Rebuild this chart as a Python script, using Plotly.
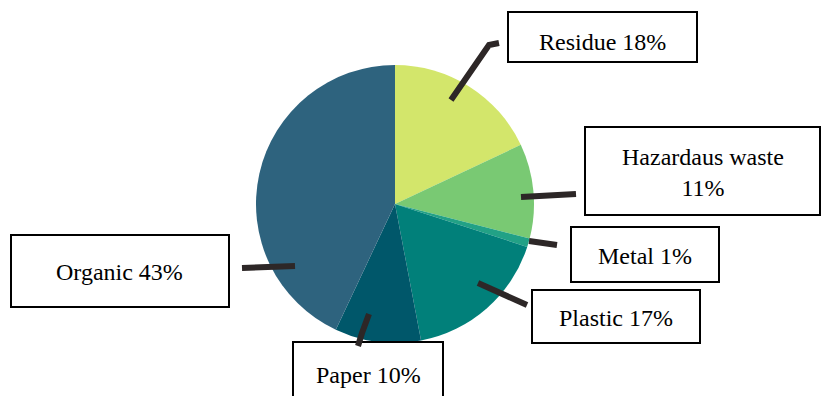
import plotly.graph_objects as go

# ---- data ----
labels = ["Residue", "Hazardaus waste", "Metal", "Plastic", "Paper", "Organic"]
values = [18, 11, 1, 17, 10, 43]
colors = ["#d3e66b", "#79c973", "#22a186", "#01807a", "#00576a", "#2e637e"]
# label text (line breaks where the box wraps)
label_texts = ["Residue 18%", "Hazardaus waste<br>11%", "Metal 1%", "Plastic 17%", "Paper 10%", "Organic 43%"]

W, H = 823, 396

# ---- layout helpers (pixel -> paper) ----
def px(x):
    return x / W

def py(y):
    return 1 - y / H

cx, cy, r = 395, 204, 139

fig = go.Figure(go.Pie(
    labels=labels,
    values=values,
    marker=dict(colors=colors, line=dict(width=0)),
    sort=False,
    direction="clockwise",
    rotation=0,
    textinfo="none",
    hoverinfo="label+percent",
    domain=dict(x=[px(cx - r), px(cx + r)], y=[py(cy + r), py(cy - r)]),
    showlegend=False,
))

# box geometry (pixels): left, top, right, bottom, text-center-y
boxes = [
    (508, 12, 697, 62, 42),
    (585, 127, 820, 215, 172),
    (571, 227, 719, 282, 256),
    (532, 290, 700, 343, 318),
    (293, 342, 443, 410, 375),
    (11, 235, 229, 307, 272),
]
# leader polylines (pixels)
leaders = [
    [(451, 100), (489, 45), (499, 43)],
    [(521, 197), (576, 194)],
    [(529, 241), (557, 245)],
    [(478, 283), (527, 305)],
    [(369, 314), (362, 333), (358, 346)],
    [(242, 268), (295, 266)],
]

shapes = []
annotations = []
for (l, t, rr, b, tcy), txt, pts in zip(boxes, label_texts, leaders):
    shapes.append(dict(type="rect", xref="paper", yref="paper",
                       x0=px(l), x1=px(rr), y0=py(b), y1=py(t),
                       line=dict(color="black", width=2), fillcolor="white"))
    path = "M " + " L ".join(f"{px(x)},{py(y)}" for x, y in pts)
    shapes.append(dict(type="path", xref="paper", yref="paper", path=path,
                       line=dict(color="#2d2727", width=6)))
    annotations.append(dict(x=px((l + rr) / 2), y=py(tcy), xref="paper", yref="paper",
                            text=txt, showarrow=False, xanchor="center", yanchor="middle",
                            font=dict(family="Liberation Serif", size=24, color="black")))

fig.update_layout(
    width=W, height=H,
    margin=dict(l=0, r=0, t=0, b=0),
    paper_bgcolor="white", plot_bgcolor="white",
    shapes=shapes,
    annotations=annotations,
)

fig.write_html("out.html")
